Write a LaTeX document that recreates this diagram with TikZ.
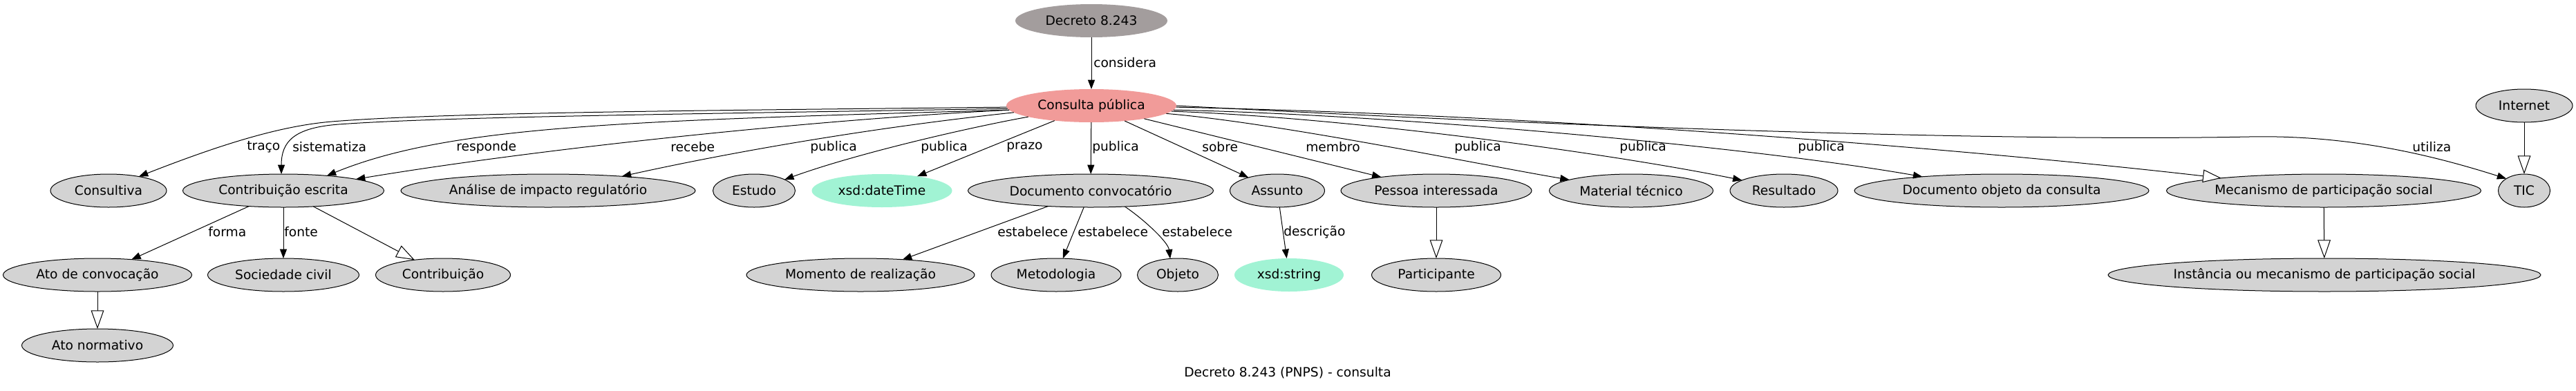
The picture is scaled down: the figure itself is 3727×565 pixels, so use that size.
\documentclass[tikz,border=0pt]{standalone}
\usepackage{fontspec}
\setmainfont{DejaVu Sans}
\usetikzlibrary{shapes.geometric,arrows.meta}
\definecolor{lgrey}{HTML}{D3D3D3}
\definecolor{dgrey}{HTML}{A39D9D}
\definecolor{salmon}{HTML}{F19B99}
\definecolor{mint}{HTML}{A1F3D4}
\newcommand{\gvtext}[1]{\makebox[0pt][c]{#1}}
\tikzset{
  gv/.style={ellipse, minimum height=36pt, inner sep=0pt, outer sep=0pt,
    font=\fontsize{14pt}{16pt}\selectfont, text=black},
  gn/.style={gv, draw=black, fill=lgrey, line width=0.75pt},
  cn/.style={gv, fill=#1},
  lbl/.style={inner sep=0pt, anchor=west, font=\fontsize{14pt}{16pt}\selectfont},
  ed/.style={line width=0.75pt, -{Triangle[length=10pt,width=7.5pt]}},
  sub/.style={line width=0.75pt, -{Triangle[open,length=20pt,width=14pt,fill=white]}},
}
\begin{document}
\begin{tikzpicture}[x=0.75pt,y=-0.75pt]
\fill[white] (0,0) rectangle (3727,565);
\useasboundingbox (0,0) rectangle (3727,565);

% rank 0 / 1
\node[cn=dgrey, minimum width=165pt] (dec) at (1579,30) {\gvtext{Decreto 8.243}};
\node[cn=salmon, minimum width=184.5pt] (cp) at (1579,153) {\gvtext{Consulta pública}};
\node[gn, minimum width=105pt] (inet) at (3652,153) {\gvtext{Internet}};

% rank 2
\node[gn, minimum width=126pt] (cons) at (157,276) {\gvtext{Consultiva}};
\node[gn, minimum width=218.25pt] (ce) at (410,276) {\gvtext{Contribuição escrita}};
\node[gn, minimum width=319.5pt] (an) at (793,276) {\gvtext{Análise de impacto regulatório}};
\node[gn, minimum width=89.25pt] (es) at (1091,276) {\gvtext{Estudo}};
\node[cn=mint, minimum width=152.25pt] (dt) at (1276,276) {\gvtext{xsd:dateTime}};
\node[gn, minimum width=266.25pt] (dc) at (1578,276) {\gvtext{Documento convocatório}};
\node[gn, minimum width=102.75pt] (as) at (1848,276) {\gvtext{Assunto}};
\node[gn, minimum width=207pt] (pi) at (2078,276) {\gvtext{Pessoa interessada}};
\node[gn, minimum width=177.75pt] (mt) at (2360,276) {\gvtext{Material técnico}};
\node[gn, minimum width=117pt] (re) at (2581,276) {\gvtext{Resultado}};
\node[gn, minimum width=319.5pt] (dob) at (2896,276) {\gvtext{Documento objeto da consulta}};
\node[gn, minimum width=341.25pt] (mec) at (3362,276) {\gvtext{Mecanismo de participação social}};
\node[gn, minimum width=56.25pt] (tic) at (3652,276) {\gvtext{TIC}};

% rank 3
\node[gn, minimum width=204.75pt] (ac) at (141,398) {\gvtext{Ato de convocação}};
\node[gn, minimum width=164.25pt] (sc) at (410,398) {\gvtext{Sociedade civil}};
\node[gn, minimum width=146.25pt] (cb) at (641,398) {\gvtext{Contribuição}};
\node[gn, minimum width=247.5pt] (mr) at (1245,398) {\gvtext{Momento de realização}};
\node[gn, minimum width=141pt] (me) at (1528,398) {\gvtext{Metodologia}};
\node[gn, minimum width=87.75pt] (ob) at (1704,398) {\gvtext{Objeto}};
\node[cn=mint, minimum width=118.5pt] (xs) at (1865,398) {\gvtext{xsd:string}};
\node[gn, minimum width=140.25pt] (pa) at (2078,398) {\gvtext{Participante}};
\node[gn, minimum width=469.5pt] (ins) at (3363,398) {\gvtext{Instância ou mecanismo de participação social}};

% rank 4
\node[gn, minimum width=164.25pt] (ano) at (141,500) {\gvtext{Ato normativo}};

% caption
\node[inner sep=0pt, font=\fontsize{14pt}{16pt}\selectfont] (cap) at (1863,540) {Decreto 8.243 (PNPS) - consulta};

% edges from Decreto / Consulta
\draw[ed] (dec) -- (cp);
\draw[ed] (cp.181) .. controls (1000,160) and (640,163) .. (480,176) .. controls (410,182) and (330,205) .. (cons.25);
\draw[ed] (cp.182) .. controls (1000,165) and (640,169) .. (490,180) .. controls (425,185) and (407,205) .. (ce.97);
\draw[ed] (cp.183) .. controls (900,175) and (650,182) .. (ce.19.5);
\draw[ed] (cp.183.4) .. controls (1200,172) and (800,212) .. (ce.9.4);
\draw[ed] (cp.185.8) .. controls (1250,186) and (1050,222) .. (an.11.7);
\draw[ed] (cp.190) .. controls (1400,185) and (1240,222) .. (es.20);
\draw[ed] (cp) -- (dt);
\draw[ed] (cp) -- (dc);
\draw[ed] (cp) -- (as);
\draw[ed] (cp) -- (pi);
\draw[ed] (cp.354.9) .. controls (1850,178) and (2150,240) .. (mt.170.3);
\draw[ed] (cp.356.6) .. controls (1950,170) and (2330,222) .. (re.166.2);
\draw[ed] (cp.357.6) .. controls (2000,165) and (2526,211) .. (dob.170.6);
\draw[sub] (cp.359) .. controls (2300,168) and (2911,223) .. (mec.173.2);
\draw[ed] (cp.0) .. controls (2300,185) and (2900,205) .. (3254,198) .. controls (3400,195) and (3520,225) .. (tic.146.3);
\draw[sub] (inet) -- (tic);

% edges rank 2 -> 3 -> 4
\draw[ed] (ce) -- (ac);
\draw[ed] (ce) -- (sc);
\draw[sub] (ce) -- (cb);
\draw[sub] (ac) -- (ano);
\draw[ed] (dc) -- (mr);
\draw[ed] (dc) -- (me);
\draw[ed] (dc.335.3) .. controls (1653,316) and (1690,350) .. (ob.115);
\draw[ed] (as) -- (xs);
\draw[sub] (pi) -- (pa);
\draw[sub] (mec) -- (ins);

% edge labels
\node[lbl] (l-considera) at (1582,91) {considera};
\node[lbl] (l-traco) at (357,213) {traço};
\node[lbl] (l-sist) at (423,213) {sistematiza};
\node[lbl] (l-resp) at (660,213) {responde};
\node[lbl] (l-recebe) at (970,213) {recebe};
\node[lbl] (l-pub1) at (1172,213) {publica};
\node[lbl] (l-pub2) at (1332,213) {publica};
\node[lbl] (l-prazo) at (1456,213) {prazo};
\node[lbl] (l-pub3) at (1580,213) {publica};
\node[lbl] (l-sobre) at (1739,213) {sobre};
\node[lbl] (l-membro) at (1889,213) {membro};
\node[lbl] (l-pub4) at (2104,213) {publica};
\node[lbl] (l-pub5) at (2343,213) {publica};
\node[lbl] (l-pub6) at (2601,213) {publica};
\node[lbl] (l-utiliza) at (3490,213) {utiliza};
\node[lbl] (l-forma) at (301,336) {forma};
\node[lbl] (l-fonte) at (411,336) {fonte};
\node[lbl] (l-est1) at (1443,336) {estabelece};
\node[lbl] (l-est2) at (1559,336) {estabelece};
\node[lbl] (l-est3) at (1681,336) {estabelece};
\node[lbl] (l-desc) at (1857,336) {descrição};
\end{tikzpicture}
\end{document}
